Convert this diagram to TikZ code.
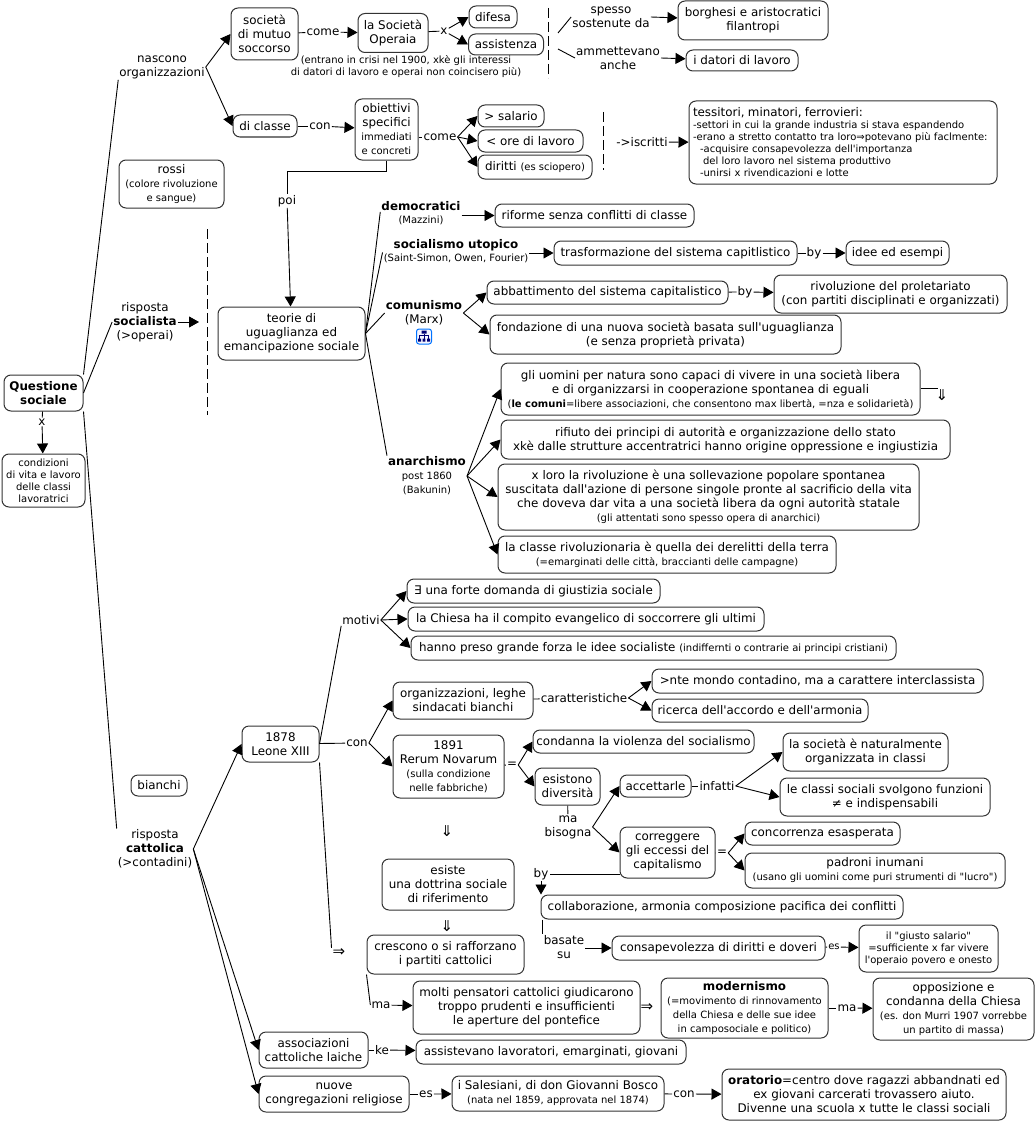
\documentclass[tikz,border=0pt]{standalone}
\usepackage{fontspec}
\setmainfont{DejaVu Sans}[Ligatures=TeXOff]
\usetikzlibrary{arrows.meta}
\newcommand{\bxfont}{\fontsize{11.9}{14}\selectfont}
\newcommand{\smfont}{\fontsize{10}{12}\selectfont}
\tikzset{
  bx/.style 2 args={draw=black!80, line width=1pt, rounded corners=7pt, minimum width=#1pt, minimum height=#2pt,
    inner sep=0pt, align=center, font=\bxfont},
  lb/.style={inner sep=1pt, align=center, font=\bxfont},
  sm/.style={font=\smfont},
  impl/.style={inner sep=1pt, font=\fontsize{15}{15}\selectfont},
  lnk/.style={line width=0.9pt},
  arr/.style={line width=0.9pt, -{Triangle[length=10pt,width=11pt]}},
  dsh/.style={line width=0.9pt, dash pattern=on 10pt off 4pt}
}
\begin{document}
\begin{tikzpicture}[x=1pt,y=-1pt]
  \useasboundingbox (0,0) rectangle (1035,1121);

  % root
  \node[bx={79}{36}, font=\bxfont\bfseries] (questione) at (43.5,393) {Questione\\sociale};
  \node[lb] (xroot) at (42,422) {x};
  \node[bx={83}{53}, font=\smfont] (condizioni) at (43.5,480.5) {condizioni\\di vita e lavoro\\delle classi\\lavoratrici};
  \draw[lnk] (questione) -- (xroot);
  \draw[arr] (xroot) -- (condizioni);

  % organizzazioni
  \node[lb] (nascono) at (162,67) {nascono\\organizzazioni};
  \node[bx={67}{52}] (societa) at (264.5,34) {società\\di mutuo\\soccorso};
  \node[lb] (come1) at (323,32) {come};
  \node[bx={70}{39}] (operaia) at (393,33) {la Società\\Operaia};
  \node[lb] (x1) at (444,31) {x};
  \node[bx={48}{22}] (difesa) at (493,17) {difesa};
  \node[bx={75}{21}] (assistenza) at (506,44.5) {assistenza};
  \node[lb, sm] (crisi) at (406,67) {(entrano in crisi nel 1900, xkè gli interessi\\di datori di lavoro e operai non coincisero più)};
  \node[lb] (spesso) at (611,17) {spesso\\sostenute da};
  \node[bx={150}{39}] (borghesi) at (753,20.5) {borghesi e aristocratici\\filantropi};
  \node[lb] (ammettevano) at (618,58) {ammettevano\\anche};
  \node[bx={112}{21}] (datori) at (742,60.5) {i datori di lavoro};
  \coordinate (dash1a) at (548.5,8);
  \coordinate (dash1b) at (548.5,78);
  \coordinate (spesso0) at (558,33);
  \coordinate (amm0) at (558,49);
  \draw[lnk] (questione.north east) -- (nascono.south west);
  \draw[arr] (nascono.east) -- (societa.west);
  \draw[lnk] (societa) -- (come1);
  \draw[arr] (come1) -- (operaia);
  \draw[lnk] (operaia) -- (x1);
  \draw[arr] (x1) -- (difesa.west);
  \draw[arr] (x1) -- (assistenza.west);
  \draw[dsh] (dash1a) -- (dash1b);
  \draw[lnk] (spesso0) -- (spesso.west);
  \draw[lnk] (amm0) -- (ammettevano.west);
  \draw[arr] (spesso.east) -- (borghesi);
  \draw[arr] (ammettevano.east) -- (datori);

  \node[bx={64}{22}] (classe) at (265,126) {di classe};
  \node[lb] (con1) at (320,126) {con};
  \node[bx={63}{61}] (obiettivi) at (386.5,129.5) {obiettivi\\specifici\\{\smfont immediati}\\{\smfont e concreti}};
  \node[lb] (come2) at (440,137) {come};
  \node[bx={66}{22}] (salario) at (511,116) {> salario};
  \node[bx={105}{22}] (ore) at (530.5,141) {< ore di lavoro};
  \node[bx={114}{24}] (diritti) at (535,167) {diritti {\smfont (es sciopero)}};
  \node[lb] (iscritti) at (642,142) {->iscritti};
  \node[bx={308}{83}, align=left, font=\smfont, text width=300pt, inner xsep=4pt] (tessitori) at (843,142.5) {{\bxfont tessitori, minatori, ferrovieri:}\\-settori in cui la grande industria si stava espandendo\\-erano a stretto contatto tra loro⇒potevano più faclmente:\\\hspace*{7pt}-acquisire consapevolezza dell'importanza\\\hspace*{10pt}del loro lavoro nel sistema produttivo\\\hspace*{7pt}-unirsi x rivendicazioni e lotte};
  \node[bx={105}{48}] (rossi) at (171.5,184) {rossi\\{\smfont (colore rivoluzione}\\{\smfont e sangue)}};
  \coordinate (dash2a) at (603.5,112);
  \coordinate (dash2b) at (603.5,170);
  \draw[arr] (nascono.east) -- (classe.west);
  \draw[lnk] (classe) -- (con1);
  \draw[arr] (con1) -- (obiettivi);
  \draw[lnk] (obiettivi.east |- come2) -- (come2);
  \draw[arr] (come2.east) -- (salario.west);
  \draw[arr] (come2.east) -- (ore.west);
  \draw[arr] (come2.east) -- (diritti.west);
  \draw[dsh] (dash2a) -- (dash2b);
  \draw[arr] (iscritti) -- (tessitori);

  % socialisti
  \node[lb] (poi) at (287,201) {poi};
  \node[bx={147}{53}] (teorie) at (291.5,333.5) {teorie di\\uguaglianza ed\\emancipazione sociale};
  \node[lb] (socialista) at (145,322) {risposta\\\textbf{socialista}\\(>operai)};
  \coordinate (dash3a) at (207.5,229);
  \coordinate (dash3b) at (207.5,415);
  \coordinate (dash3c) at (199,322);
  \coordinate (poi0) at (287,171);
  \draw[lnk] (obiettivi.south) |- (poi0) -- (poi);
  \draw[arr] (poi) -- (teorie);
  \draw[lnk] (questione.east) -- (socialista.west);
  \draw[arr] (socialista) -- (dash3c);
  \draw[dsh] (dash3a) -- (dash3b);

  \node[lb, font=\bxfont\bfseries] (democratici) at (421,206) {democratici};
  \node[lb, sm] (mazzini) at (421,220) {(Mazzini)};
  \node[bx={199}{23}] (riforme) at (594.5,215.5) {riforme senza conflitti di classe};
  \node[lb, font=\bxfont\bfseries] (utopico) at (456,245) {socialismo utopico};
  \node[lb, sm] (saint) at (456,258) {(Saint-Simon, Owen, Fourier)};
  \node[bx={243}{24}] (trasformazione) at (675.5,253) {trasformazione del sistema capitlistico};
  \node[lb] (by1) at (814,253) {by};
  \node[bx={103}{24}] (idee) at (897.5,253) {idee ed esempi};
  \node[lb] (comunismo) at (424,313) {\textbf{comunismo}\\(Marx)};
  \node[bx={241}{23}] (abbattimento) at (607.5,292.5) {abbattimento del sistema capitalistico};
  \node[lb] (by2) at (745,292) {by};
  \node[bx={233}{38}] (rivoluzione) at (890.5,294) {rivoluzione del proletariato\\(con partiti disciplinati e organizzati)};
  \node[bx={351}{39}] (fondazione) at (665.5,334.5) {fondazione di una nuova società basata sull'uguaglianza\\(e senza proprietà privata)};
  % icona
  \node[draw=blue!55!cyan, fill=blue!4, line width=1pt, rounded corners=2.5pt, minimum size=15pt, inner sep=0pt] (icona) at (424,336.5) {};
  \fill[blue!45!black] (421.5,330.5) rectangle (426.5,333.5) (418,338.5) rectangle (421,341.5) (422.7,338.5) rectangle (425.3,341.5) (427,338.5) rectangle (430,341.5);
  \draw[blue!45!black, line width=0.5pt] (424,333.5) -- (424,338.5) (419.5,338.5) -- (419.5,335.5) -- (428.5,335.5) -- (428.5,338.5);
  \node[lb] (anarchismo) at (427,476) {\textbf{anarchismo}\\{\smfont post 1860}\\{\smfont (Bakunin)}};
  \node[bx={419}{52}] (uomini) at (710.5,389) {gli uomini per natura sono capaci di vivere in una società libera\\e di organizzarsi in cooperazione spontanea di eguali\\{\smfont (\textbf{le comuni}=libere associazioni, che consentono max libertà, =nza e solidarietà)}};
  \node[impl] (imp1) at (942,395) {⇓};
  \node[bx={449}{39}] (rifiuto) at (725.5,439.5) {rifiuto dei principi di autorità e organizzazione dello stato\\xkè dalle strutture accentratrici hanno origine oppressione e ingiustizia};
  \node[bx={421}{66}] (xloro) at (708.5,497) {x loro la rivoluzione è una sollevazione popolare spontanea\\suscitata dall'azione di persone singole pronte al sacrificio della vita\\che doveva dar vita a una società libera da ogni autorità statale\\{\smfont (gli attentati sono spesso opera di anarchici)}};
  \node[bx={338}{37}] (derelitti) at (667,554.5) {la classe rivoluzionaria è quella dei derelitti della terra\\{\smfont (=emarginati delle città, braccianti delle campagne)}};
  \coordinate (uomini1) at (938,388);
  \draw[lnk] (teorie.east) -- (democratici.south west);
  \draw[lnk] (teorie.east) -- (saint.north west);
  \draw[lnk] (teorie.east) -- (comunismo.west);
  \draw[lnk] (teorie.east) -- (anarchismo.north west);
  \draw[arr] (democratici.east |- riforme) -- (riforme);
  \draw[arr] (saint.east |- trasformazione) -- (trasformazione);
  \draw[lnk] (trasformazione) -- (by1);
  \draw[arr] (by1) -- (idee);
  \draw[arr] (comunismo.east) -- (abbattimento.west);
  \draw[arr] (comunismo.east) -- (fondazione.west);
  \draw[lnk] (abbattimento) -- (by2);
  \draw[arr] (by2) -- (rivoluzione);
  \draw[arr] (anarchismo.east) -- (uomini.west);
  \draw[arr] (anarchismo.east) -- (rifiuto.west);
  \draw[arr] (anarchismo.east) -- (xloro.west);
  \draw[arr] (anarchismo.east) -- (derelitti.west);
  \draw[lnk] (uomini.east |- uomini1) -- (uomini1);

  % cattolici
  \node[bx={56}{21}] (bianchi) at (159,785.5) {bianchi};
  \node[lb] (cattolica) at (155,849) {risposta\\\textbf{cattolica}\\(>contadini)};
  \node[bx={77}{36}] (leone) at (280.5,744) {1878\\Leone XIII};
  \node[lb] (motivi) at (361,620) {motivi};
  \node[bx={253}{24}] (giustizia) at (533.5,591) {∃ una forte domanda di giustizia sociale};
  \node[bx={356}{24}] (chiesa) at (586,619) {la Chiesa ha il compito evangelico di soccorrere gli ultimi};
  \node[bx={485}{24}] (hanno) at (653.5,648) {hanno preso grande forza le idee socialiste {\smfont (indiffernti o contrarie ai principi cristiani)}};
  \node[lb] (con2) at (357,743) {con};
  \node[bx={140}{37}] (leghe) at (463,700.5) {organizzazioni, leghe\\sindacati bianchi};
  \node[lb] (caratteristiche) at (584,698) {caratteristiche};
  \node[bx={331}{24}] (nte) at (817.5,681) {>nte mondo contadino, ma a carattere interclassista};
  \node[bx={216}{23}] (ricerca) at (760,710.5) {ricerca dell'accordo e dell'armonia};
  \node[bx={111}{63}] (novarum) at (448.5,766.5) {1891\\Rerum Novarum\\{\smfont (sulla condizione}\\{\smfont nelle fabbriche)}};
  \node[lb] (eq1) at (512,765) {=};
  \node[bx={221}{23}] (condanna) at (643.5,741.5) {condanna la violenza del socialismo};
  \node[bx={65}{37}] (esistono) at (567.5,786.5) {esistono\\diversità};
  \node[lb] (bisogna) at (568,827) {ma\\bisogna};
  \node[bx={71}{22}] (accettarle) at (655.5,786) {accettarle};
  \node[lb] (infatti) at (717,786) {infatti};
  \node[bx={165}{38}] (naturalmente) at (865.5,752) {la società è naturalmente\\organizzata in classi};
  \node[bx={210}{38}] (funzioni) at (885,797) {le classi sociali svolgono funzioni\\≠ e indispensabili};
  \node[bx={95}{51}] (correggere) at (667.5,852.5) {correggere\\gli eccessi del\\capitalismo};
  \node[lb] (eq2) at (722,853) {=};
  \node[bx={155}{23}] (concorrenza) at (822.5,833.5) {concorrenza esasperata};
  \node[bx={260}{35}] (padroni) at (875,870.5) {padroni inumani\\{\smfont (usano gli uomini come puri strumenti di "lucro")}};
  \node[lb] (by3) at (541,874) {by};
  \node[bx={362}{24}] (collaborazione) at (722,907) {collaborazione, armonia composizione pacifica dei conflitti};
  \node[lb] (basate) at (564,947) {basate\\su};
  \node[bx={213}{24}] (consapevolezza) at (718.5,948) {consapevolezza di diritti e doveri};
  \node[lb, sm] (es1) at (834,947) {es};
  \node[bx={139}{47}, font=\smfont] (giusto) at (928.5,948.5) {il "giusto salario"\\=sufficiente x far vivere\\l'operaio povero e onesto};
  \node[impl] (imp2) at (447,831) {⇓};
  \node[bx={132}{51}] (esiste) at (448,884.5) {esiste\\una dottrina sociale\\di riferimento};
  \node[impl] (imp3) at (447,926) {⇓};
  \node[bx={157}{39}] (crescono) at (445.5,954.5) {crescono o si rafforzano\\i partiti cattolici};
  \node[impl] (imp4) at (339,953) {⇒};
  \node[lb] (ma1) at (381,1005) {ma};
  \node[bx={227}{53}] (molti) at (526.5,1007.5) {molti pensatori cattolici giudicarono\\troppo prudenti e insufficienti\\le aperture del pontefice};
  \node[impl] (imp5) at (647,1008) {⇒};
  \node[bx={167}{60}] (modernismo) at (744.5,1008) {\textbf{modernismo}\\{\smfont (=movimento di rinnovamento}\\{\smfont della Chiesa e delle sue idee}\\{\smfont in camposociale e politico)}};
  \node[lb] (ma2) at (847,1008) {ma};
  \node[bx={161}{62}] (opposizione) at (953.5,1009) {opposizione e\\condanna della Chiesa\\{\smfont (es. don Murri 1907 vorrebbe}\\{\smfont un partito di massa)}};
  \node[bx={109}{36}] (associazioni) at (313.5,1050) {associazioni\\cattoliche laiche};
  \node[lb] (ke) at (382,1050) {ke};
  \node[bx={270}{24}] (assistevano) at (551,1052) {assistevano lavoratori, emarginati, giovani};
  \node[bx={150}{36}] (congregazioni) at (334,1094) {nuove\\congregazioni religiose};
  \node[lb] (es2) at (426,1094) {es};
  \node[bx={212}{35}] (salesiani) at (558,1093.5) {i Salesiani, di don Giovanni Bosco\\{\smfont (nata nel 1859, approvata nel 1874)}};
  \node[lb] (con3) at (684,1094) {con};
  \node[bx={284}{51}] (oratorio) at (864,1094.5) {\textbf{oratorio}=centro dove ragazzi abbandnati ed\\ex giovani carcerati trovassero aiuto.\\Divenne una scuola x tutte le classi sociali};

  \draw[lnk] (questione.south east) -- (cattolica.north west);
  \draw[arr] (cattolica.east) -- (leone.west);
  \draw[arr] (cattolica.east) -- (associazioni.west);
  \draw[arr] (cattolica.east) -- (congregazioni.west);
  \draw[lnk] (leone.east) -- (motivi.south west);
  \draw[arr] (motivi.east) -- (giustizia.west);
  \draw[arr] (motivi.east) -- (chiesa.west);
  \draw[arr] (motivi.east) -- (hanno.west);
  \draw[lnk] (leone) -- (con2);
  \draw[arr] (con2.east) -- (leghe.west);
  \draw[arr] (con2.east) -- (novarum.west);
  \draw[lnk] (leghe) -- (caratteristiche);
  \draw[arr] (caratteristiche.east) -- (nte.west);
  \draw[arr] (caratteristiche.east) -- (ricerca.west);
  \draw[lnk] (novarum) -- (eq1);
  \draw[arr] (eq1.east) -- (condanna.west);
  \draw[arr] (eq1.east) -- (esistono.west);
  \draw[lnk] (esistono) -- (bisogna);
  \draw[arr] (bisogna.east) -- (accettarle.west);
  \draw[arr] (bisogna.east) -- (correggere.west);
  \draw[lnk] (accettarle) -- (infatti);
  \draw[arr] (infatti.east) -- (naturalmente.west);
  \draw[arr] (infatti.east) -- (funzioni.west);
  \draw[lnk] (correggere) -- (eq2);
  \draw[arr] (eq2.east) -- (concorrenza.west);
  \draw[arr] (eq2.east) -- (padroni.west);
  \draw[lnk] (correggere.west |- by3) -- (by3);
  \draw[arr] (by3) -- (by3 |- collaborazione.north);
  \draw[lnk] (basate.north west |- collaborazione.south) -- (basate.north west);
  \draw[arr] (basate.east |- consapevolezza) -- (consapevolezza);
  \draw[lnk] (consapevolezza) -- (es1);
  \draw[arr] (es1) -- (giusto);
  \draw[lnk] (leone.south east) -- (imp4.north west);
  \draw[lnk] (crescono.south west) -- (ma1.west);
  \draw[arr] (ma1) -- (molti);
  \draw[lnk] (modernismo) -- (ma2);
  \draw[arr] (ma2) -- (opposizione);
  \draw[lnk] (associazioni) -- (ke);
  \draw[arr] (ke) -- (assistevano);
  \draw[lnk] (congregazioni) -- (es2);
  \draw[arr] (es2) -- (salesiani);
  \draw[lnk] (salesiani) -- (con3);
  \draw[arr] (con3) -- (oratorio);
\end{tikzpicture}
\end{document}
